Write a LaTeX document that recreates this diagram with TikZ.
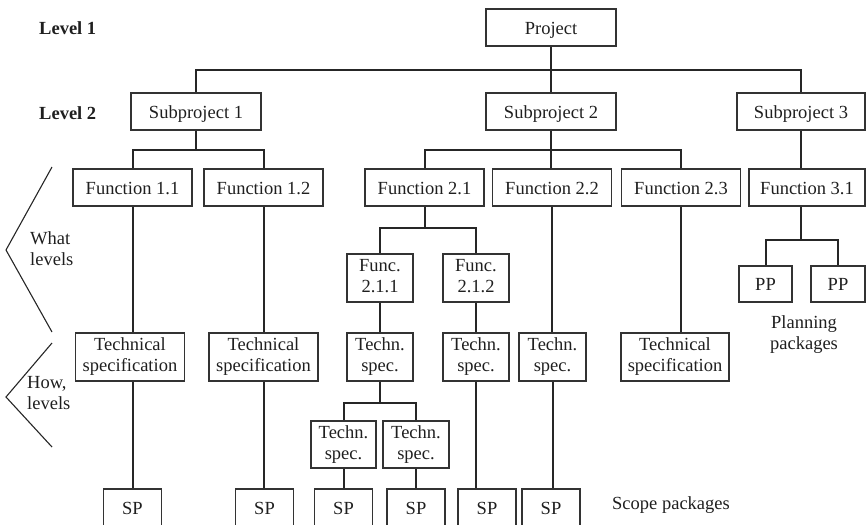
\documentclass[tikz,border=0pt]{standalone}
\usepackage{fontspec}
\setmainfont{Liberation Serif}
\newcommand\fsz{\fontsize{18.5}{21}\selectfont}
\begin{document}
\begin{tikzpicture}[x=1pt,y=-1pt,
  box/.style={draw=black!80, line width=1.2pt, inner sep=0pt, align=center, font=\fsz, text=black!88},
  one/.style={box, text height=15pt, text depth=1.5pt},
  conn/.style={line width=2pt, draw=black!85},
  brk/.style={line width=1.1pt, draw=black!85},
  lbl/.style={font=\fsz, text=black!88, inner sep=0pt},
  fbox/.style={one, minimum width=119, minimum height=37},
  two/.style={box, execute at begin node={\rule{0pt}{17pt}}, execute at end node={\rule[-4pt]{0pt}{4pt}}},
  tbox/.style={two, minimum height=48},
  spbox/.style={one, minimum width=58, minimum height=37}]
\useasboundingbox (0,0) rectangle (866,524);
\clip (0,0) rectangle (866,524);
% levels
\node[lbl, anchor=west, font=\fsz\bfseries] (l1) at (39,28) {Level 1};
\node[lbl, anchor=west, font=\fsz\bfseries] (l2) at (39,113) {Level 2};
% level 1 and 2
\node[one, minimum width=130, minimum height=37] (proj) at (551,27.5) {Project};
\node[one, minimum width=130, minimum height=37] (sub1) at (196,111.5) {Subproject 1};
\node[one, minimum width=130, minimum height=37] (sub2) at (551,111.5) {Subproject 2};
\node[one, minimum width=128, minimum height=37] (sub3) at (801,111.5) {Subproject 3};
% functions
\node[fbox] (f11) at (132.5,187.5) {Function 1.1};
\node[fbox] (f12) at (263.5,187.5) {Function 1.2};
\node[fbox] (f21) at (424.5,187.5) {Function 2.1};
\node[fbox] (f22) at (552,187.5) {Function 2.2};
\node[fbox] (f23) at (681,187.5) {Function 2.3};
\node[one, minimum width=116, minimum height=37] (f31) at (807,187.5) {Function 3.1};
% sub functions
\node[tbox, minimum width=66] (f211) at (380,278) {Func.\\2.1.1};
\node[tbox, minimum width=66] (f212) at (476,278) {Func.\\2.1.2};
% PP
\node[one, minimum width=53, minimum height=36] (pp1) at (765.5,284) {PP};
\node[one, minimum width=54, minimum height=36] (pp2) at (838,284) {PP};
\node[lbl, align=center] (plan) at (804,335) {Planning\\packages};
% technical specs
\node[tbox, minimum width=109] (ts1) at (130,357) {Technical\\specification};
\node[tbox, minimum width=109] (ts2) at (263.5,357) {Technical\\specification};
\node[tbox, minimum width=66] (ts21) at (380,357) {Techn.\\spec.};
\node[tbox, minimum width=66] (ts212) at (476,357) {Techn.\\spec.};
\node[tbox, minimum width=67] (ts22) at (552.5,357) {Techn.\\spec.};
\node[tbox, minimum width=108] (ts23) at (675,357) {Technical\\specification};
\node[two, minimum width=65, minimum height=47] (tsa) at (343.5,444.5) {Techn.\\spec.};
\node[two, minimum width=66, minimum height=47] (tsb) at (416,444.5) {Techn.\\spec.};
% scope packages
\node[spbox] (sp1) at (132.5,507.5) {SP};
\node[spbox] (sp2) at (264.5,507.5) {SP};
\node[spbox] (sp3) at (343.5,507.5) {SP};
\node[spbox] (sp4) at (416,507.5) {SP};
\node[spbox] (sp5) at (487,507.5) {SP};
\node[spbox] (sp6) at (551,507.5) {SP};
\node[lbl, anchor=west] (scope) at (612,505) {Scope packages};
% what / how labels
\node[lbl, anchor=west, align=left] (what) at (30,249) {What\\levels};
\node[lbl, anchor=west, align=left] (how) at (27,393) {How,\\levels};
\coordinate (wa) at (52,167); \coordinate (wb) at (6,250); \coordinate (wc) at (52,332);
\coordinate (ha) at (52,343); \coordinate (hb) at (6,397); \coordinate (hc) at (52,447);
\draw[brk] (wa) -- (wb) -- (wc);
\draw[brk] (ha) -- (hb) -- (hc);
% connectors
\draw[conn] (proj.south) -- ++(0,23) -| (sub1.north);
\draw[conn] (proj.south) -- (sub2.north);
\draw[conn] (proj.south) ++(0,23) -| (sub3.north);
\draw[conn] (sub1.south) -- ++(0,19) -| (f11.north);
\draw[conn] (sub1.south) ++(0,19) -| (f12.north);
\draw[conn] (sub2.south) -- ++(0,19) -| (f21.north);
\draw[conn] (sub2.south) -- (sub2.south |- f22.north);
\draw[conn] (sub2.south) ++(0,19) -| (f23.north);
\draw[conn] (sub3.south) -- (sub3.south |- f31.north);
\draw[conn] (sub3.south |- f31.south) -- ++(0,33) -| (pp1.north);
\draw[conn] (sub3.south |- f31.south) ++(0,33) -| (pp2.north);
\draw[conn] (f11.south) -- (f11.south |- ts1.north);
\draw[conn] (f12.south) -- (f12.south |- ts2.north);
\draw[conn] (f21.south) -- ++(0,21) -| (f211.north);
\draw[conn] (f21.south) ++(0,21) -| (f212.north);
\draw[conn] (f211.south) -- (ts21.north);
\draw[conn] (f212.south) -- (ts212.north);
\draw[conn] (f22.south) -- (f22.south |- ts22.north);
\draw[conn] (f23.south) -- (f23.south |- ts23.north);
\draw[conn] (f11.south |- ts1.south) -- (f11.south |- sp1.north);
\draw[conn] (ts2.south) -- (ts2.south |- sp2.north);
\draw[conn] (ts21.south) -- ++(0,21) -| (tsa.north);
\draw[conn] (ts21.south) ++(0,21) -| (tsb.north);
\draw[conn] (tsa.south) -- (tsa.south |- sp3.north);
\draw[conn] (tsb.south) -- (tsb.south |- sp4.north);
\draw[conn] (ts212.south) -- (ts212.south |- sp5.north);
\draw[conn] (ts22.south) -- (ts22.south |- sp6.north);
\end{tikzpicture}
\end{document}
